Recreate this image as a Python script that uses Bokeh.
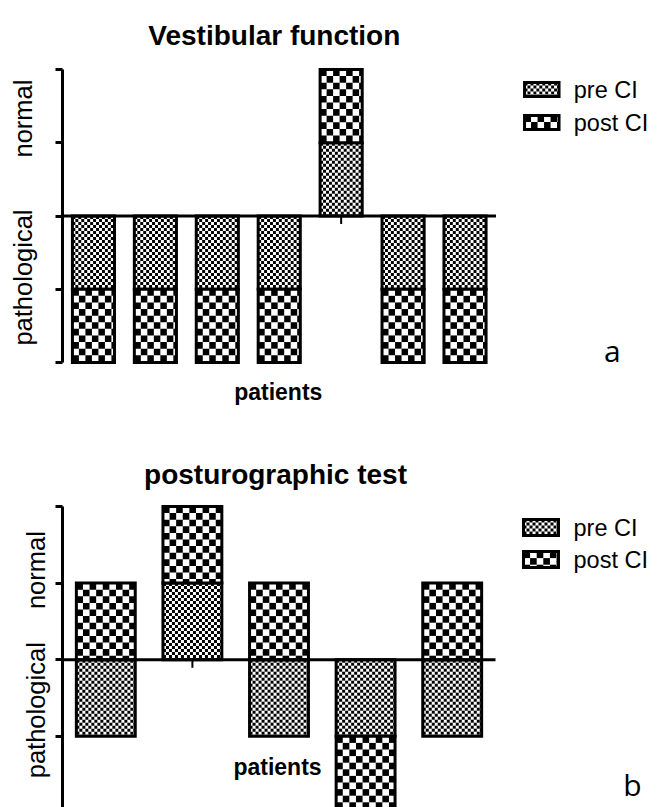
import math
from bokeh.plotting import figure
from bokeh.models import Range1d, FixedTicker, Label
from bokeh.layouts import column
from bokeh.embed import file_html
from bokeh.resources import INLINE

# ---------------- data ----------------
vest_patients = [1, 2, 3, 4, 5, 6, 7]
vest_pre = [-1, -1, -1, -1, 1, -1, -1]      # +1 normal, -1 pathological
vest_post = [-1, -1, -1, -1, 1, -1, -1]

post_patients = [1, 2, 3, 4, 5]
post_pre = [-1, 1, -1, -1, -1]
post_post = [1, 1, 1, -1, 1]

y_ticks = [-2, -1, 0, 1, 2]
series_names = ["pre CI", "post CI"]
state_names = ["pathological", "normal"]
titles = ["Vestibular function", "posturographic test"]
x_title = "patients"
panel_letters = ["a", "b"]

FONT = "Liberation Sans"
FINE_PX = 3.0     # checker cell size (pixels) for "pre CI"
COARSE_PX = 6.6   # checker cell size (pixels) for "post CI"
PAGE_W = 660


def stack(pre, post):
    pre_bottom = [0] * len(pre)
    post_bottom = [a if (a > 0) == (b > 0) else 0 for a, b in zip(pre, post)]
    post_top = [b0 + b for b0, b in zip(post_bottom, post)]
    return pre_bottom, list(pre), post_bottom, post_top


def checker(lefts, rights, bottoms, tops, cw, ch):
    L, R, B, T = [], [], [], []
    for l, r, b, t in zip(lefts, rights, bottoms, tops):
        lo, hi = min(b, t), max(b, t)
        i, x = 0, l
        while x < r - 1e-9:
            j, y = 0, hi
            while y > lo + 1e-9:
                if (i + j) % 2 == 0:
                    L.append(x); R.append(min(x + cw, r))
                    T.append(y); B.append(max(y - ch, lo))
                y -= ch
                j += 1
            x += cw
            i += 1
    return L, R, B, T


def make_panel(patients, pre, post, height, page_top, axis_px, cat_right_px,
               y2_px, unit_px, title, title_pos, state_pos, label_standoff,
               xt_pos, letter_pos, letter, legend_pos, sw_h):
    n = len(patients)
    ppx = (cat_right_px - axis_px) / n

    def dx(px):
        return 0.5 + (px - axis_px) / ppx

    def dy(py):
        return 2 - (py - y2_px) / unit_px

    p = figure(width=PAGE_W, height=height,
               x_range=Range1d(dx(axis_px), dx(PAGE_W)),
               y_range=Range1d(dy(page_top + height), dy(page_top)),
               output_backend="svg", toolbar_location=None,
               x_axis_location=None,
               min_border_left=axis_px, min_border_right=0,
               min_border_top=0, min_border_bottom=0)
    p.xgrid.visible = False
    p.ygrid.visible = False
    p.outline_line_color = None

    ax = p.yaxis[0]
    ax.ticker = FixedTicker(ticks=[state_pos[0], state_pos[1]], minor_ticks=y_ticks)
    ax.major_label_overrides = {state_pos[0]: state_names[0], state_pos[1]: state_names[1]}
    ax.major_label_orientation = "vertical"
    ax.major_label_text_font = FONT
    ax.major_label_text_font_size = "25.5px"
    ax.major_label_text_color = "black"
    ax.major_label_standoff = label_standoff
    ax.axis_line_width = 3
    ax.axis_line_color = "black"
    ax.major_tick_line_color = None
    ax.major_tick_in = 0
    ax.major_tick_out = 0
    ax.minor_tick_line_color = "black"
    ax.minor_tick_line_width = 3
    ax.minor_tick_in = 0
    ax.minor_tick_out = 7
    ax.bounds = (min(y_ticks), max(y_ticks))

    # small category ticks hanging from the zero line
    tick_len = 8 / unit_px
    p.segment(x0=patients, x1=patients, y0=[0] * n, y1=[-tick_len] * n,
              line_color="black", line_width=2)

    bw = 0.68
    pre_b, pre_t, post_b, post_t = stack(pre, post)
    lefts = [x - bw / 2 for x in patients]
    rights = [x + bw / 2 for x in patients]

    for bots, tops, cell in ((pre_b, pre_t, FINE_PX), (post_b, post_t, COARSE_PX)):
        p.vbar(x=patients, bottom=bots, top=tops, width=bw,
               fill_color="white", line_color="black", line_width=3, line_join="miter")
        L, R, B, T = checker(lefts, rights, bots, tops, cell / ppx, cell / unit_px)
        p.quad(left=L, right=R, bottom=B, top=T, fill_color="black", line_color=None)

    # zero line (x axis at y = 0)
    p.segment(x0=[patients[0] - 0.5], x1=[patients[-1] + 0.5], y0=[0], y1=[0],
              line_color="black", line_width=3)

    # legend (swatches with checker texture + labels)
    sw_left, row_centers = legend_pos
    for name, cy, cell in zip(series_names, row_centers, (FINE_PX, COARSE_PX)):
        l, r = dx(sw_left), dx(sw_left + 35)
        t, b = dy(cy - sw_h / 2), dy(cy + sw_h / 2)
        p.quad(left=[l], right=[r], bottom=[b], top=[t], fill_color="white",
               line_color="black", line_width=3, line_join="miter")
        L, R, B, T = checker([l], [r], [b], [t], cell / ppx, cell / unit_px)
        p.quad(left=L, right=R, bottom=B, top=T, fill_color="black", line_color=None)
        p.add_layout(Label(x=dx(sw_left + 50), y=dy(cy), text=name,
                           text_font=FONT, text_font_size="23.5px", text_color="black",
                           text_align="left", text_baseline="middle"))

    # title
    p.add_layout(Label(x=dx(title_pos[0]), y=dy(title_pos[1]), text=title,
                       text_font=FONT, text_font_size="28px", text_font_style="bold",
                       text_align="center", text_baseline="alphabetic", text_color="black"))
    # x title
    p.add_layout(Label(x=dx(xt_pos[0]), y=dy(xt_pos[1]), text=x_title,
                       text_font=FONT, text_font_size="23px", text_font_style="bold",
                       text_align="center", text_baseline="alphabetic", text_color="black"))
    # panel letter
    p.add_layout(Label(x=dx(letter_pos[0]), y=dy(letter_pos[1]), text=letter,
                       text_font="Open Sans", text_font_size="30px",
                       text_align="center", text_baseline="alphabetic", text_color="black"))
    return p


top = make_panel(vest_patients, vest_pre, vest_post, height=405, page_top=0,
                 axis_px=53, cat_right_px=493, y2_px=69, unit_px=73.25,
                 title=titles[0], title_pos=(268, 35),
                 state_pos=(-0.84, 1.33), label_standoff=18,
                 xt_pos=(272, 391), letter_pos=(611, 350), letter=panel_letters[0],
                 legend_pos=(522, (89, 122)), sw_h=14)

bottom = make_panel(post_patients, post_pre, post_post, height=402, page_top=405,
                    axis_px=62, cat_right_px=495, y2_px=506, unit_px=76.6,
                    title=titles[1], title_pos=(275, 474),
                    state_pos=(-0.66, 1.17), label_standoff=5,
                    xt_pos=(277, 766), letter_pos=(632, 784), letter=panel_letters[1],
                    legend_pos=(523, (527, 559)), sw_h=16)

layout = column(top, bottom, spacing=0)
open("out.html", "w").write(file_html(layout, INLINE))
